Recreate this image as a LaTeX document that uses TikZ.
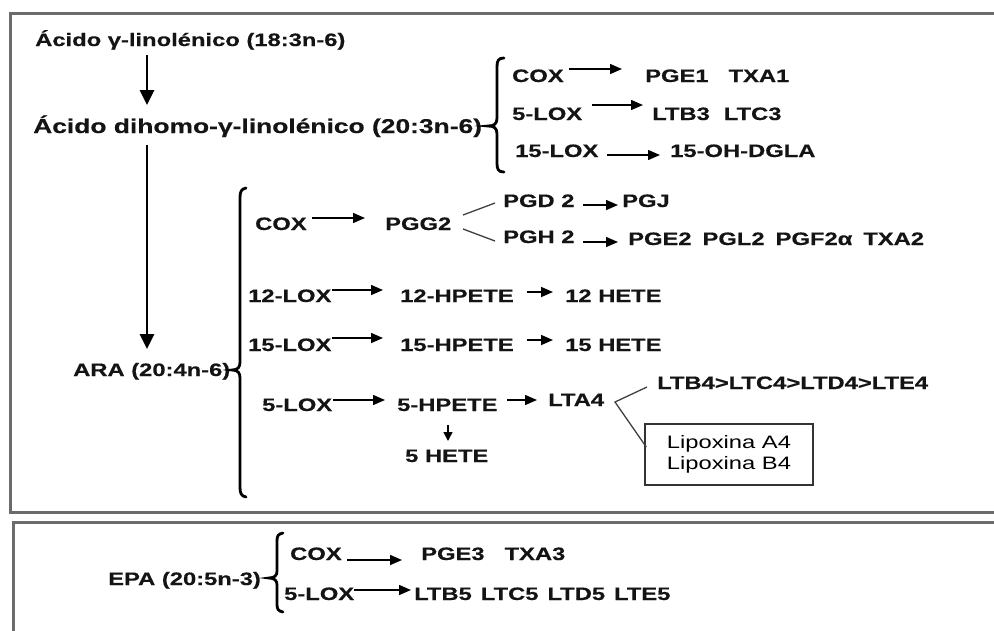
\documentclass[tikz,border=0pt]{standalone}
\usepackage{fontspec}
\setmainfont{Liberation Sans}[FakeStretch=1.32, BoldFeatures={FakeBold=0.4}]
\usetikzlibrary{arrows.meta}
\begin{document}
\begin{tikzpicture}[x=1pt,y=-1pt,
  lab/.style={font=\bfseries\fontsize{18}{21}\selectfont, inner sep=0pt, anchor=base west, text=black!92},
  biglab/.style={lab, font=\bfseries\fontsize{20}{23}\selectfont},
  arr/.style={line width=1.5pt, -{Triangle[length=12pt,width=10pt]}},
  smallarr/.style={line width=1.5pt, -{Triangle[length=9pt,width=9pt]}},
  bigarr/.style={line width=2.8pt, -{Triangle[length=15pt,width=14pt]}},
  brace/.style={line width=2.8pt, line cap=round},
  frame/.style={line width=3pt, draw=black!58},
  fork/.style={line width=1.3pt, draw=black!75},
  boxed/.style={draw=black!80, line width=1.5pt, minimum width=168pt, minimum height=61pt, inner sep=0pt, align=center, font=\fontsize{18}{21}\selectfont}]

\useasboundingbox (0,0) rectangle (994,630);
\clip (0,0) rectangle (994,630);

% frames
\draw[frame] (1000,13) -- (10,13) -- (10,512) -- (1000,512);
\draw[frame] (1000,522) -- (13,522) -- (13,640);

% main chain
\node[lab] (g1) at (35,46) {Ácido γ-linolénico (18:3n-6)};
\node[biglab] (g2) at (33,133) {Ácido dihomo-γ-linolénico (20:3n-6)};
\node[lab] (ara) at (73,376) {ARA (20:4n-6)};
\draw[bigarr] ([shift={(112,9)}]g1.base west) -- ([shift={(114,-28)}]g2.base west);
\draw[bigarr] ([shift={(114,12)}]g2.base west) -- ([shift={(74,-27)}]ara.base west);

% DGLA brace
\draw[brace] (504,58) .. controls (498,58) and (497,61) .. (497,67) -- (497,118)
  .. controls (497,124) and (494,126) .. (488,126)
  .. controls (494,126) and (497,128) .. (497,134) -- (497,163)
  .. controls (497,169) and (498,172) .. (504,172);

\node[lab] (cox1) at (512,82) {COX};
\node[lab] (pge1) at (645,82) {PGE1\hspace{20pt}TXA1};
\node[lab] (lox5a) at (512,120) {5-LOX};
\node[lab] (ltb3) at (652,120) {LTB3\hspace{14pt}LTC3};
\node[lab] (lox15a) at (515,157) {15-LOX};
\node[lab] (ohdgla) at (670,157) {15-OH-DGLA};
\draw[arr] ([shift={(57,-13)}]cox1.base west) -- ([shift={(-23,-13)}]pge1.base west);
\draw[arr] ([shift={(80,-15)}]lox5a.base west) -- ([shift={(-9,-15)}]ltb3.base west);
\draw[arr] ([shift={(92,-2)}]lox15a.base west) -- ([shift={(-10,-2)}]ohdgla.base west);

% ARA brace
\draw[brace] (246,188) .. controls (241,189) and (240,192) .. (240,198) -- (240,362)
  .. controls (240,367) and (238,370) .. (232,370)
  .. controls (238,370) and (240,373) .. (240,378) -- (240,487)
  .. controls (240,493) and (241,496) .. (246,497);

\node[lab] (cox2) at (255,230) {COX};
\node[lab] (pgg2) at (385,230) {PGG2};
\node[lab] (pgd2) at (503,207) {PGD 2};
\node[lab] (pgj) at (622,207) {PGJ};
\node[lab] (pgh2) at (503,243) {PGH 2};
\node[lab] (pge2) at (628,245) {PGE2\hspace{11pt}PGL2\hspace{11pt}PGF2α\hspace{11pt}TXA2};
\draw[arr] ([shift={(57,-12)}]cox2.base west) -- ([shift={(-20,-12)}]pgg2.base west);
\draw[fork] ([shift={(78,-15)}]pgg2.base west) -- ([shift={(-8,-4)}]pgd2.base west);
\draw[fork] ([shift={(78,-1)}]pgg2.base west) -- ([shift={(-8,-2)}]pgh2.base west);
\draw[arr] ([shift={(80,-2)}]pgd2.base west) -- ([shift={(-4,-2)}]pgj.base west);
\draw[arr] ([shift={(80,-1)}]pgh2.base west) -- ([shift={(-10,-3)}]pge2.base west);

\node[lab] (lox12) at (248,302) {12-LOX};
\node[lab] (hpete12) at (400,302) {12-HPETE};
\node[lab] (hete12) at (565,302) {12 HETE};
\draw[arr] ([shift={(84,-12)}]lox12.base west) -- ([shift={(-17,-12)}]hpete12.base west);
\draw[arr] ([shift={(127,-10)}]hpete12.base west) -- ([shift={(-12,-10)}]hete12.base west);

\node[lab] (lox15b) at (248,351) {15-LOX};
\node[lab] (hpete15) at (400,351) {15-HPETE};
\node[lab] (hete15) at (565,351) {15 HETE};
\draw[arr] ([shift={(84,-13)}]lox15b.base west) -- ([shift={(-17,-13)}]hpete15.base west);
\draw[arr] ([shift={(127,-11)}]hpete15.base west) -- ([shift={(-12,-11)}]hete15.base west);

\node[lab] (lox5b) at (262,411) {5-LOX};
\node[lab] (hpete5) at (397,411) {5-HPETE};
\node[lab] (hete5) at (405,462) {5 HETE};
\node[lab] (lta4) at (548,406) {LTA4};
\node[lab] (ltb4) at (657,389) {LTB4>LTC4>LTD4>LTE4};
\node[boxed] (lipox) at (729,454.5) {Lipoxina A4\\Lipoxina B4};
\draw[arr] ([shift={(71,-11)}]lox5b.base west) -- ([shift={(-12,-11)}]hpete5.base west);
\draw[smallarr] ([shift={(51,14)}]hpete5.base west) -- ([shift={(43,-21)}]hete5.base west);
\draw[arr] ([shift={(110,-11)}]hpete5.base west) -- ([shift={(-11,-6)}]lta4.base west);
\draw[fork] ([shift={(-10,-2)}]ltb4.base west) -- ([shift={(67,-4)}]lta4.base west) -- ([shift={(2,-7.5)}]lipox.west);

% EPA box
\node[lab] (epa) at (108,585) {EPA (20:5n-3)};
\draw[brace] (283,533) .. controls (278,534) and (277,536) .. (277,541) -- (277,571)
  .. controls (277,575) and (275,578) .. (269,578)
  .. controls (275,578) and (277,581) .. (277,585) -- (277,604)
  .. controls (277,609) and (278,611) .. (283,612);
\node[lab] (cox3) at (290,560) {COX};
\node[lab] (pge3) at (421,560) {PGE3\hspace{20pt}TXA3};
\node[lab] (lox5c) at (284,600) {5-LOX};
\node[lab] (ltb5) at (414,600) {LTB5\hspace{9pt}LTC5\hspace{9pt}LTD5\hspace{9pt}LTE5};
\draw[arr] ([shift={(57,0)}]cox3.base west) -- ([shift={(-19,0)}]pge3.base west);
\draw[arr] ([shift={(70,-10)}]lox5c.base west) -- ([shift={(-3,-10)}]ltb5.base west);
\end{tikzpicture}
\end{document}
